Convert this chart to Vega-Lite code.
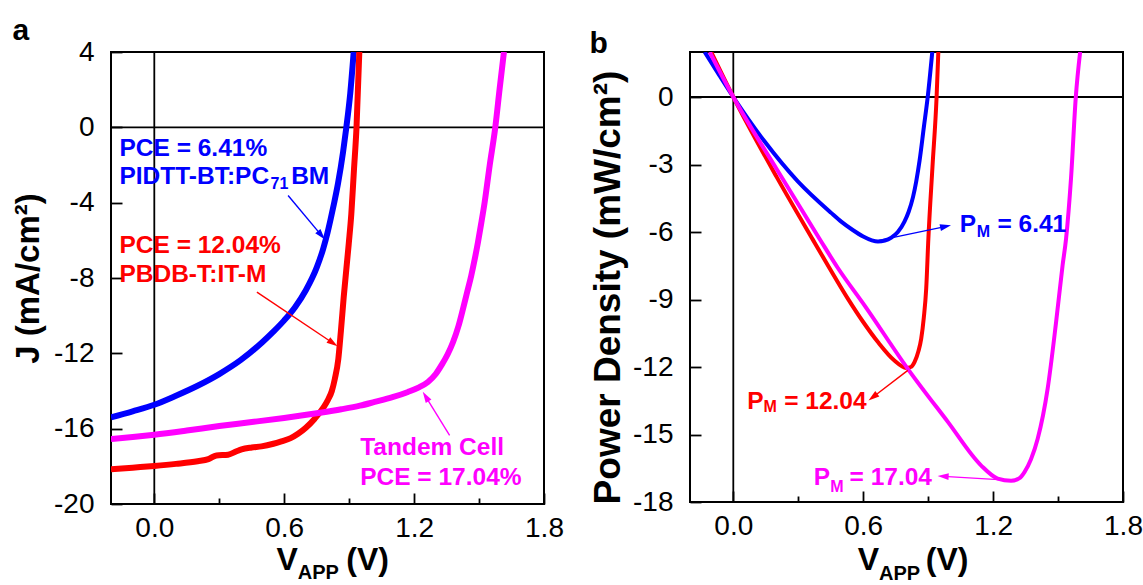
{
 "$schema": "https://vega.github.io/schema/vega-lite/v6.json",
 "background": "white",
 "padding": {"left": 11, "top": 15, "right": 0, "bottom": 0},
 "spacing": 23,
 "config": {
  "font": "Liberation Sans",
  "view": {"stroke": "black", "strokeWidth": 2},
  "axis": {"labelFont": "Liberation Sans", "labelFontSize": 28, "labelColor": "black", "tickColor": "black", "tickWidth": 1.8, "titleFont": "Liberation Sans", "titleFontWeight": "bold", "titleColor": "black", "grid": false, "domain": false, "labelFlush": false, "labelOverlap": false, "tickSize": -11},
  "text": {"font": "Liberation Sans"},
  "title": {"font": "Liberation Sans", "fontWeight": "bold", "color": "black"}
 },
 "datasets": {
  "jv": [
   {"cell":"PIDTT","V":-0.2,"J":-15.4},{"cell":"PIDTT","V":-0.1,"J":-15.08},{"cell":"PIDTT","V":0.0,"J":-14.73},{"cell":"PIDTT","V":0.1,"J":-14.25},{"cell":"PIDTT","V":0.2,"J":-13.72},{"cell":"PIDTT","V":0.3,"J":-13.1},{"cell":"PIDTT","V":0.4,"J":-12.35},{"cell":"PIDTT","V":0.5,"J":-11.4},{"cell":"PIDTT","V":0.55,"J":-10.85},{"cell":"PIDTT","V":0.6,"J":-10.25},{"cell":"PIDTT","V":0.65,"J":-9.55},{"cell":"PIDTT","V":0.7,"J":-8.65},{"cell":"PIDTT","V":0.75,"J":-7.45},{"cell":"PIDTT","V":0.78,"J":-6.45},{"cell":"PIDTT","V":0.8,"J":-5.6},{"cell":"PIDTT","V":0.815,"J":-4.85},{"cell":"PIDTT","V":0.83,"J":-4.05},{"cell":"PIDTT","V":0.849,"J":-2.95},{"cell":"PIDTT","V":0.872,"J":-1.3},{"cell":"PIDTT","V":0.887,"J":0},{"cell":"PIDTT","V":0.905,"J":1.8},{"cell":"PIDTT","V":0.921,"J":4},
   {"cell":"PBDB","V":-0.2,"J":-18.16},{"cell":"PBDB","V":-0.1,"J":-18.07},{"cell":"PBDB","V":0.0,"J":-17.98},{"cell":"PBDB","V":0.1,"J":-17.87},{"cell":"PBDB","V":0.2,"J":-17.73},{"cell":"PBDB","V":0.25,"J":-17.62},{"cell":"PBDB","V":0.287,"J":-17.42},{"cell":"PBDB","V":0.341,"J":-17.38},{"cell":"PBDB","V":0.38,"J":-17.2},{"cell":"PBDB","V":0.403,"J":-17.1},{"cell":"PBDB","V":0.45,"J":-17.0},{"cell":"PBDB","V":0.495,"J":-16.94},{"cell":"PBDB","V":0.55,"J":-16.8},{"cell":"PBDB","V":0.587,"J":-16.67},{"cell":"PBDB","V":0.63,"J":-16.5},{"cell":"PBDB","V":0.664,"J":-16.27},{"cell":"PBDB","V":0.7,"J":-15.95},{"cell":"PBDB","V":0.741,"J":-15.47},{"cell":"PBDB","V":0.78,"J":-14.9},{"cell":"PBDB","V":0.803,"J":-14.45},{"cell":"PBDB","V":0.82,"J":-14.0},{"cell":"PBDB","V":0.834,"J":-13.35},{"cell":"PBDB","V":0.85,"J":-12.3},{"cell":"PBDB","V":0.862,"J":-10.8},{"cell":"PBDB","V":0.875,"J":-9.0},{"cell":"PBDB","V":0.898,"J":-6.2},{"cell":"PBDB","V":0.91,"J":-4.6},{"cell":"PBDB","V":0.922,"J":-2.3},{"cell":"PBDB","V":0.934,"J":0},{"cell":"PBDB","V":0.947,"J":4},
   {"cell":"Tandem","V":-0.2,"J":-16.55},{"cell":"Tandem","V":-0.1,"J":-16.44},{"cell":"Tandem","V":0.0,"J":-16.32},{"cell":"Tandem","V":0.15,"J":-16.1},{"cell":"Tandem","V":0.3,"J":-15.86},{"cell":"Tandem","V":0.45,"J":-15.65},{"cell":"Tandem","V":0.6,"J":-15.43},{"cell":"Tandem","V":0.75,"J":-15.18},{"cell":"Tandem","V":0.864,"J":-14.97},{"cell":"Tandem","V":0.95,"J":-14.78},{"cell":"Tandem","V":1.018,"J":-14.58},{"cell":"Tandem","V":1.1,"J":-14.33},{"cell":"Tandem","V":1.172,"J":-14.05},{"cell":"Tandem","V":1.22,"J":-13.82},{"cell":"Tandem","V":1.264,"J":-13.52},{"cell":"Tandem","V":1.3,"J":-13.1},{"cell":"Tandem","V":1.326,"J":-12.64},{"cell":"Tandem","V":1.355,"J":-12.05},{"cell":"Tandem","V":1.38,"J":-11.4},{"cell":"Tandem","V":1.405,"J":-10.55},{"cell":"Tandem","V":1.426,"J":-9.63},{"cell":"Tandem","V":1.445,"J":-8.75},{"cell":"Tandem","V":1.464,"J":-7.87},{"cell":"Tandem","V":1.48,"J":-7.0},{"cell":"Tandem","V":1.495,"J":-6.1},{"cell":"Tandem","V":1.51,"J":-5.1},{"cell":"Tandem","V":1.526,"J":-3.97},{"cell":"Tandem","V":1.549,"J":-2.03},{"cell":"Tandem","V":1.575,"J":0},{"cell":"Tandem","V":1.595,"J":2.04},{"cell":"Tandem","V":1.615,"J":4}
  ],
  "pd": [
   {"cell":"PIDTT","V":-0.132,"P":2.0},{"cell":"PIDTT","V":-0.07,"P":1.05},{"cell":"PIDTT","V":0,"P":0},{"cell":"PIDTT","V":0.144,"P":-1.97},{"cell":"PIDTT","V":0.298,"P":-3.75},{"cell":"PIDTT","V":0.452,"P":-5.15},{"cell":"PIDTT","V":0.5,"P":-5.55},{"cell":"PIDTT","V":0.55,"P":-5.9},{"cell":"PIDTT","V":0.6,"P":-6.2},{"cell":"PIDTT","V":0.64,"P":-6.37},{"cell":"PIDTT","V":0.668,"P":-6.42},{"cell":"PIDTT","V":0.7,"P":-6.38},{"cell":"PIDTT","V":0.73,"P":-6.25},{"cell":"PIDTT","V":0.76,"P":-6.0},{"cell":"PIDTT","V":0.79,"P":-5.55},{"cell":"PIDTT","V":0.81,"P":-5.1},{"cell":"PIDTT","V":0.83,"P":-4.45},{"cell":"PIDTT","V":0.845,"P":-3.75},{"cell":"PIDTT","V":0.86,"P":-2.85},{"cell":"PIDTT","V":0.88,"P":-1.35},{"cell":"PIDTT","V":0.898,"P":0},{"cell":"PIDTT","V":0.919,"P":2.0},
   {"cell":"PBDB","V":-0.102,"P":2.0},{"cell":"PBDB","V":0,"P":0},{"cell":"PBDB","V":0.2,"P":-3.55},{"cell":"PBDB","V":0.368,"P":-6.35},{"cell":"PBDB","V":0.444,"P":-7.6},{"cell":"PBDB","V":0.529,"P":-8.96},{"cell":"PBDB","V":0.6,"P":-10.0},{"cell":"PBDB","V":0.668,"P":-10.89},{"cell":"PBDB","V":0.744,"P":-11.71},{"cell":"PBDB","V":0.798,"P":-12.04},{"cell":"PBDB","V":0.82,"P":-12.0},{"cell":"PBDB","V":0.837,"P":-11.78},{"cell":"PBDB","V":0.855,"P":-11.3},{"cell":"PBDB","V":0.868,"P":-10.74},{"cell":"PBDB","V":0.88,"P":-9.8},{"cell":"PBDB","V":0.891,"P":-8.52},{"cell":"PBDB","V":0.901,"P":-6.3},{"cell":"PBDB","V":0.92,"P":-3.1},{"cell":"PBDB","V":0.939,"P":0},{"cell":"PBDB","V":0.947,"P":2.0},
   {"cell":"Tandem","V":-0.109,"P":2.0},{"cell":"Tandem","V":0,"P":0},{"cell":"Tandem","V":0.2,"P":-3.2},{"cell":"Tandem","V":0.398,"P":-6.3},{"cell":"Tandem","V":0.483,"P":-7.6},{"cell":"Tandem","V":0.606,"P":-9.26},{"cell":"Tandem","V":0.806,"P":-12.08},{"cell":"Tandem","V":0.991,"P":-14.44},{"cell":"Tandem","V":1.144,"P":-16.37},{"cell":"Tandem","V":1.221,"P":-16.96},{"cell":"Tandem","V":1.283,"P":-17.06},{"cell":"Tandem","V":1.32,"P":-16.95},{"cell":"Tandem","V":1.345,"P":-16.67},{"cell":"Tandem","V":1.375,"P":-16.1},{"cell":"Tandem","V":1.406,"P":-15.19},{"cell":"Tandem","V":1.452,"P":-12.96},{"cell":"Tandem","V":1.491,"P":-10.0},{"cell":"Tandem","V":1.521,"P":-7.48},{"cell":"Tandem","V":1.537,"P":-6.3},{"cell":"Tandem","V":1.56,"P":-3.6},{"cell":"Tandem","V":1.582,"P":0},{"cell":"Tandem","V":1.602,"P":2.0}
  ],
  "noteA": [
   {"V":-0.161,"J":-1.5,"t":"PCE = 6.41%","cell":"PIDTT","kind":"main"},
   {"V":-0.161,"J":-3.0,"t":"PIDTT-BT:PC","cell":"PIDTT","kind":"main"},
   {"V":0.537,"J":-3.27,"t":"71","cell":"PIDTT","kind":"sub"},
   {"V":0.632,"J":-3.0,"t":"BM","cell":"PIDTT","kind":"main"},
   {"V":-0.161,"J":-6.66,"t":"PCE = 12.04%","cell":"PBDB","kind":"main"},
   {"V":-0.161,"J":-8.22,"t":"PBDB-T:IT-M","cell":"PBDB","kind":"main"},
   {"V":0.951,"J":-17.42,"t":"Tandem Cell","cell":"Tandem","kind":"main"},
   {"V":0.951,"J":-19.0,"t":"PCE = 17.04%","cell":"Tandem","kind":"main"}
  ],
  "xtitA": [
   {"V":0.565,"J":-23.52,"t":"V","kind":"main"},
   {"V":0.663,"J":-24.0,"t":"APP","kind":"sub"},
   {"V":0.887,"J":-23.52,"t":"(V)","kind":"main"}
  ],
  "noteB": [
   {"V":1.046,"P":-6.0,"t":"P","cell":"PIDTT","kind":"main"},
   {"V":1.124,"P":-6.21,"t":"M","cell":"PIDTT","kind":"sub"},
   {"V":1.22,"P":-6.0,"t":"= 6.41","cell":"PIDTT","kind":"main"},
   {"V":0.064,"P":-13.85,"t":"P","cell":"PBDB","kind":"main"},
   {"V":0.139,"P":-14.0,"t":"M","cell":"PBDB","kind":"sub"},
   {"V":0.235,"P":-13.85,"t":"= 12.04","cell":"PBDB","kind":"main"},
   {"V":0.372,"P":-17.26,"t":"P","cell":"Tandem","kind":"main"},
   {"V":0.448,"P":-17.56,"t":"M","cell":"Tandem","kind":"sub"},
   {"V":0.537,"P":-17.26,"t":"= 17.04","cell":"Tandem","kind":"main"}
  ],
  "xtitB": [
   {"V":0.575,"P":-21.04,"t":"V","kind":"main"},
   {"V":0.673,"P":-21.45,"t":"APP","kind":"sub"},
   {"V":0.889,"P":-21.04,"t":"(V)","kind":"main"}
  ],
  "arrA": [
   {"cell":"PIDTT","V":0.618,"J":-3.62,"V2":0.770,"J2":-5.71},
   {"cell":"PBDB","V":0.474,"J":-8.75,"V2":0.823,"J2":-11.44},
   {"cell":"Tandem","V":1.364,"J":-16.36,"V2":1.255,"J2":-14.32}
  ],
  "arrB": [
   {"cell":"PIDTT","V":0.674,"P":-6.37,"V2":0.978,"P2":-5.76},
   {"cell":"PBDB","V":0.806,"P":-12.15,"V2":0.647,"P2":-13.32},
   {"cell":"Tandem","V":1.283,"P":-17.04,"V2":0.972,"P2":-16.86}
  ]
 },
 "hconcat": [
  {
   "width": 433, "height": 452,
   "title": {"text": "a", "anchor": "start", "frame": "bounds", "fontSize": 30, "offset": -8},
   "layer": [
    {"data": {"values": [{}]}, "mark": {"type": "rule", "color": "black", "strokeWidth": 1.8}, "encoding": {"x": {"datum": 0, "type": "quantitative", "scale": {"domain": [-0.2, 1.8], "nice": false, "zero": false}}}},
    {"data": {"values": [{}]}, "mark": {"type": "rule", "color": "black", "strokeWidth": 1.8}, "encoding": {"y": {"datum": 0, "type": "quantitative", "scale": {"domain": [-20, 4], "nice": false, "zero": false}}}},
    {"data": {"name": "jv"}, "mark": {"type": "line", "strokeWidth": 6, "clip": true, "interpolate": "monotone"},
     "encoding": {
      "x": {"field": "V", "type": "quantitative", "scale": {"domain": [-0.2, 1.8], "nice": false, "zero": false},
            "axis": {"values": [0, 0.3, 0.6, 0.9, 1.2, 1.5, 1.8], "labelExpr": "round(datum.value*10) % 6 === 0 ? format(datum.value, '.1f') : ''", "title": null, "labelPadding": 21,
                     "tickDash": {"condition": {"test": "round(datum.value*10) % 6 !== 0", "value": [6, 30]}, "value": []}}},
      "y": {"field": "J", "type": "quantitative", "scale": {"domain": [-20, 4], "nice": false, "zero": false},
            "axis": {"values": [-20, -18, -16, -14, -12, -10, -8, -6, -4, -2, 0, 2, 4], "labelExpr": "datum.value % 4 === 0 ? '' + datum.value : ''", "title": "J (mA/cm²)", "titleFontSize": 33, "titlePadding": 8, "labelPadding": 28,
                     "tickDash": {"condition": {"test": "datum.value % 4 !== 0", "value": [6, 30]}, "value": []}}},
      "color": {"field": "cell", "type": "nominal", "scale": {"domain": ["PIDTT", "PBDB", "Tandem"], "range": ["#0000ff", "#ff0000", "#ff00ff"]}, "legend": null}
     }},
    {"data": {"name": "arrA"}, "mark": {"type": "rule", "strokeWidth": 1.4},
     "encoding": {"x": {"field": "V", "type": "quantitative"}, "y": {"field": "J", "type": "quantitative"}, "x2": {"field": "V2"}, "y2": {"field": "J2"},
      "color": {"field": "cell", "type": "nominal", "legend": null}}},
    {"data": {"name": "arrA"}, "transform": [{"filter": "datum.cell === 'PIDTT'"}], "mark": {"type": "point", "shape": "M0,-1L0.55,0.8L-0.55,0.8Z", "filled": true, "opacity": 1, "size": 150, "angle": 140},
     "encoding": {"x": {"field": "V2", "type": "quantitative"}, "y": {"field": "J2", "type": "quantitative"}, "color": {"field": "cell", "type": "nominal", "legend": null}}},
    {"data": {"name": "arrA"}, "transform": [{"filter": "datum.cell === 'PBDB'"}], "mark": {"type": "point", "shape": "M0,-1L0.55,0.8L-0.55,0.8Z", "filled": true, "opacity": 1, "size": 150, "angle": 124},
     "encoding": {"x": {"field": "V2", "type": "quantitative"}, "y": {"field": "J2", "type": "quantitative"}, "color": {"field": "cell", "type": "nominal", "legend": null}}},
    {"data": {"name": "arrA"}, "transform": [{"filter": "datum.cell === 'Tandem'"}], "mark": {"type": "point", "shape": "M0,-1L0.55,0.8L-0.55,0.8Z", "filled": true, "opacity": 1, "size": 150, "angle": 328},
     "encoding": {"x": {"field": "V2", "type": "quantitative"}, "y": {"field": "J2", "type": "quantitative"}, "color": {"field": "cell", "type": "nominal", "legend": null}}},
    {"data": {"name": "noteA"}, "transform": [{"filter": "datum.kind === 'main'"}], "mark": {"type": "text", "align": "left", "baseline": "alphabetic", "fontSize": 24.5, "fontWeight": "bold"},
     "encoding": {"x": {"field": "V", "type": "quantitative"}, "y": {"field": "J", "type": "quantitative"}, "text": {"field": "t"}, "color": {"field": "cell", "type": "nominal", "legend": null}}},
    {"data": {"name": "noteA"}, "transform": [{"filter": "datum.kind === 'sub'"}], "mark": {"type": "text", "align": "left", "baseline": "alphabetic", "fontSize": 16, "fontWeight": "bold"},
     "encoding": {"x": {"field": "V", "type": "quantitative"}, "y": {"field": "J", "type": "quantitative"}, "text": {"field": "t"}, "color": {"field": "cell", "type": "nominal", "legend": null}}},
    {"data": {"name": "xtitA"}, "transform": [{"filter": "datum.kind === 'main'"}], "mark": {"type": "text", "align": "left", "baseline": "alphabetic", "fontSize": 32, "fontWeight": "bold", "color": "black"},
     "encoding": {"x": {"field": "V", "type": "quantitative"}, "y": {"field": "J", "type": "quantitative"}, "text": {"field": "t"}}},
    {"data": {"name": "xtitA"}, "transform": [{"filter": "datum.kind === 'sub'"}], "mark": {"type": "text", "align": "left", "baseline": "alphabetic", "fontSize": 20, "fontWeight": "bold", "color": "black"},
     "encoding": {"x": {"field": "V", "type": "quantitative"}, "y": {"field": "J", "type": "quantitative"}, "text": {"field": "t"}}}
   ]
  },
  {
   "width": 433, "height": 450,
   "title": {"text": "b", "anchor": "start", "frame": "bounds", "fontSize": 30, "offset": -8},
   "layer": [
    {"data": {"values": [{}]}, "mark": {"type": "rule", "color": "black", "strokeWidth": 1.8}, "encoding": {"x": {"datum": 0, "type": "quantitative", "scale": {"domain": [-0.2, 1.8], "nice": false, "zero": false}}}},
    {"data": {"values": [{}]}, "mark": {"type": "rule", "color": "black", "strokeWidth": 1.8}, "encoding": {"y": {"datum": 0, "type": "quantitative", "scale": {"domain": [-18, 2], "nice": false, "zero": false}}}},
    {"data": {"name": "pd"}, "mark": {"type": "line", "strokeWidth": 4, "clip": true, "interpolate": "monotone"},
     "encoding": {
      "x": {"field": "V", "type": "quantitative", "scale": {"domain": [-0.2, 1.8], "nice": false, "zero": false},
            "axis": {"values": [0, 0.3, 0.6, 0.9, 1.2, 1.5, 1.8], "labelExpr": "round(datum.value*10) % 6 === 0 ? format(datum.value, '.1f') : ''", "title": null, "labelPadding": 21,
                     "tickDash": {"condition": {"test": "round(datum.value*10) % 6 !== 0", "value": [6, 30]}, "value": []}}},
      "y": {"field": "P", "type": "quantitative", "scale": {"domain": [-18, 2], "nice": false, "zero": false},
            "axis": {"values": [-18, -16.5, -15, -13.5, -12, -10.5, -9, -7.5, -6, -4.5, -3, -1.5, 0, 1.5], "labelExpr": "round(datum.value*2) % 6 === 0 ? '' + datum.value : ''", "title": "Power Density (mW/cm²)", "titleFontSize": 37, "titlePadding": 5, "titleY": 235, "labelPadding": 28,
                     "tickDash": {"condition": {"test": "round(datum.value*2) % 6 !== 0", "value": [6, 30]}, "value": []}}},
      "color": {"field": "cell", "type": "nominal", "scale": {"domain": ["PIDTT", "PBDB", "Tandem"], "range": ["#0000ff", "#ff0000", "#ff00ff"]}, "legend": null}
     }},
    {"data": {"name": "arrB"}, "mark": {"type": "rule", "strokeWidth": 1.4},
     "encoding": {"x": {"field": "V", "type": "quantitative"}, "y": {"field": "P", "type": "quantitative"}, "x2": {"field": "V2"}, "y2": {"field": "P2"},
      "color": {"field": "cell", "type": "nominal", "legend": null}}},
    {"data": {"name": "arrB"}, "transform": [{"filter": "datum.cell === 'PIDTT'"}], "mark": {"type": "point", "shape": "M0,-1L0.55,0.8L-0.55,0.8Z", "filled": true, "opacity": 1, "size": 150, "angle": 78},
     "encoding": {"x": {"field": "V2", "type": "quantitative"}, "y": {"field": "P2", "type": "quantitative"}, "color": {"field": "cell", "type": "nominal", "legend": null}}},
    {"data": {"name": "arrB"}, "transform": [{"filter": "datum.cell === 'PBDB'"}], "mark": {"type": "point", "shape": "M0,-1L0.55,0.8L-0.55,0.8Z", "filled": true, "opacity": 1, "size": 150, "angle": 233},
     "encoding": {"x": {"field": "V2", "type": "quantitative"}, "y": {"field": "P2", "type": "quantitative"}, "color": {"field": "cell", "type": "nominal", "legend": null}}},
    {"data": {"name": "arrB"}, "transform": [{"filter": "datum.cell === 'Tandem'"}], "mark": {"type": "point", "shape": "M0,-1L0.55,0.8L-0.55,0.8Z", "filled": true, "opacity": 1, "size": 150, "angle": 273},
     "encoding": {"x": {"field": "V2", "type": "quantitative"}, "y": {"field": "P2", "type": "quantitative"}, "color": {"field": "cell", "type": "nominal", "legend": null}}},
    {"data": {"name": "noteB"}, "transform": [{"filter": "datum.kind === 'main'"}], "mark": {"type": "text", "align": "left", "baseline": "alphabetic", "fontSize": 24.5, "fontWeight": "bold"},
     "encoding": {"x": {"field": "V", "type": "quantitative"}, "y": {"field": "P", "type": "quantitative"}, "text": {"field": "t"}, "color": {"field": "cell", "type": "nominal", "legend": null}}},
    {"data": {"name": "noteB"}, "transform": [{"filter": "datum.kind === 'sub'"}], "mark": {"type": "text", "align": "left", "baseline": "alphabetic", "fontSize": 16, "fontWeight": "bold"},
     "encoding": {"x": {"field": "V", "type": "quantitative"}, "y": {"field": "P", "type": "quantitative"}, "text": {"field": "t"}, "color": {"field": "cell", "type": "nominal", "legend": null}}},
    {"data": {"name": "xtitB"}, "transform": [{"filter": "datum.kind === 'main'"}], "mark": {"type": "text", "align": "left", "baseline": "alphabetic", "fontSize": 32, "fontWeight": "bold", "color": "black"},
     "encoding": {"x": {"field": "V", "type": "quantitative"}, "y": {"field": "P", "type": "quantitative"}, "text": {"field": "t"}}},
    {"data": {"name": "xtitB"}, "transform": [{"filter": "datum.kind === 'sub'"}], "mark": {"type": "text", "align": "left", "baseline": "alphabetic", "fontSize": 20, "fontWeight": "bold", "color": "black"},
     "encoding": {"x": {"field": "V", "type": "quantitative"}, "y": {"field": "P", "type": "quantitative"}, "text": {"field": "t"}}}
   ]
  }
 ]
}
